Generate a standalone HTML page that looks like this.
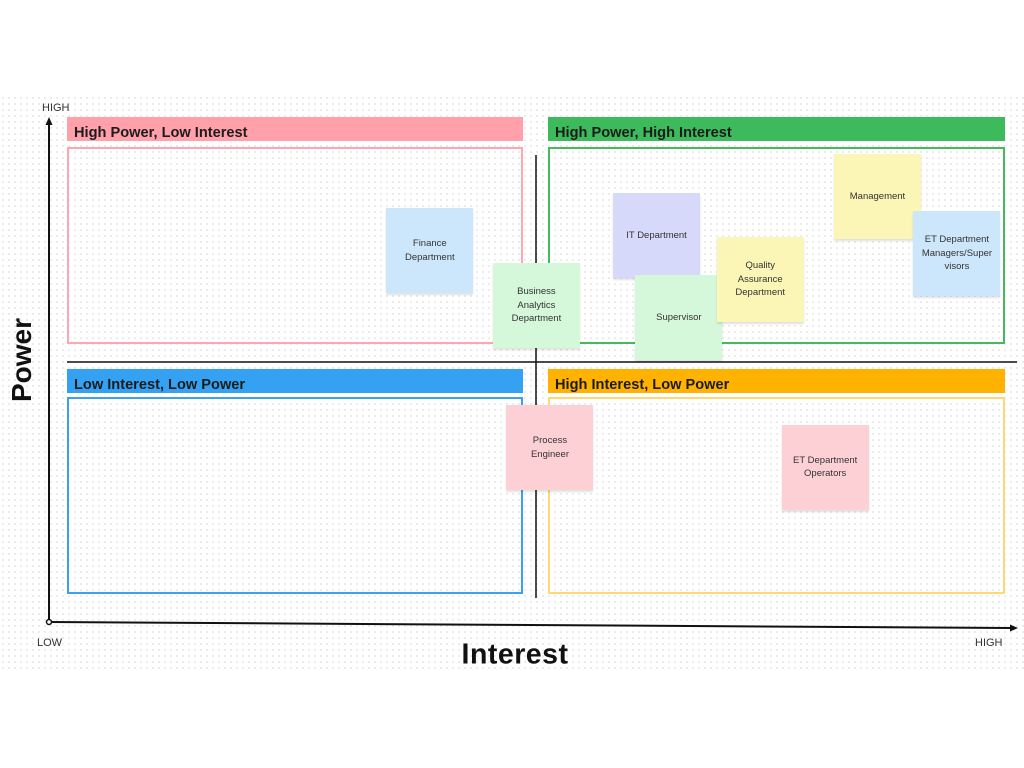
<!DOCTYPE html>
<html><head><meta charset="utf-8"><style>
html,body{margin:0;padding:0;width:1024px;height:768px;overflow:hidden;background:#fff;font-family:"Liberation Sans",sans-serif;}
#board{position:absolute;left:0;top:95px;width:1024px;height:577px;background-color:#fff;background-image:radial-gradient(circle,#e6e6e6 0.8px,transparent 1.1px);background-size:6px 6px;}
.abs{position:absolute;}
.hdr{position:absolute;height:24px;font-weight:bold;font-size:14.6px;color:#1c1c1c;line-height:32px;padding-left:7px;box-sizing:border-box;overflow:hidden;}
.box{position:absolute;box-sizing:border-box;border:2px solid;}
.note{position:absolute;width:87px;height:85px;display:flex;align-items:center;justify-content:center;text-align:center;font-size:9.5px;line-height:13.5px;color:#333;box-shadow:0 2px 2px rgba(0,0,0,0.12);padding:0 3px;box-sizing:border-box;}
.lbl{position:absolute;font-size:11px;color:#333;}
</style></head><body>
<div id="board"></div>

<div class="hdr" style="left:67px;top:117px;width:456px;background:#ffa0aa">High Power, Low Interest</div>
<div class="hdr" style="left:548px;top:117px;width:457px;background:#3dba5b">High Power, High Interest</div>
<div class="hdr" style="left:67px;top:369px;width:456px;background:#35a1f2">Low Interest, Low Power</div>
<div class="hdr" style="left:548px;top:369px;width:457px;background:#ffb300">High Interest, Low Power</div>

<div class="box" style="left:67px;top:147px;width:456px;height:197px;border-color:#ffa6b0"></div>
<div class="box" style="left:548px;top:147px;width:457px;height:197px;border-color:#46b95e"></div>
<div class="box" style="left:67px;top:397px;width:456px;height:197px;border-color:#3aa0ef"></div>
<div class="box" style="left:548px;top:397px;width:457px;height:197px;border-color:#ffd873"></div>

<svg class="abs" style="left:0;top:0" width="1024" height="768">
  <line x1="536" y1="155" x2="536" y2="598" stroke="#111" stroke-width="1.5"/>
  <line x1="67" y1="362" x2="1017" y2="362" stroke="#111" stroke-width="1.5"/>
  <line x1="49" y1="622" x2="49" y2="124" stroke="#111" stroke-width="2"/>
  <polygon points="49,117 45.5,125 52.5,125" fill="#111"/>
  <line x1="49" y1="622" x2="1011" y2="628" stroke="#111" stroke-width="2"/>
  <polygon points="1018,628 1010,624.5 1010,631.5" fill="#111"/>
  <circle cx="49" cy="622" r="2.5" fill="#fff" stroke="#111" stroke-width="1.5"/>
</svg>

<div class="lbl" style="left:42px;top:102px">HIGH</div>
<div class="lbl" style="left:37px;top:637px">LOW</div>
<div class="lbl" style="left:975px;top:637px">HIGH</div>
<div class="abs" style="left:22px;top:360px;transform:translate(-50%,-50%) rotate(-90deg);font-size:28px;font-weight:bold;color:#111">Power</div>
<div class="abs" style="left:515px;top:655px;transform:translate(-50%,-50%);font-size:28.5px;font-weight:bold;color:#111;letter-spacing:0.5px">Interest</div>

<div id="notes"></div>
<script>
const labels = ["Finance<br>Department","Business<br>Analytics<br>Department","IT Department","Supervisor","Quality<br>Assurance<br>Department","Management","ET Department<br>Managers/Super<br>visors","Process<br>Engineer","ET Department<br>Operators"];
const interest = [39.3,50.3,62.7,65.0,73.4,85.5,93.7,51.7,80.1];
const power = [73.7,62.8,76.7,60.4,68.0,84.4,73.1,34.6,30.7];
const colors = ["#cce7fb","#d5f8da","#d7d9fb","#d5f8da","#fbf6b6","#fbf6b6","#cce7fb","#fdd0d6","#fdd0d6"];
const names = ["finance","business-analytics","it-department","supervisor","quality-assurance","management","et-managers","process-engineer","et-operators"];
function xScale(v){return 49 + v*(1018-49)/100;}
function yScale(v){return 622 - v*(622-118)/100;}
const wrap=document.getElementById('notes');
for(let i=0;i<labels.length;i++){
  const el=document.createElement('div');
  el.className='note';
  el.style.left=(xScale(interest[i])-43.5)+'px';
  el.style.top=(yScale(power[i])-42.5)+'px';
  el.style.background=colors[i];
  el.innerHTML=labels[i];
  
  
  wrap.appendChild(el);
}
</script>
</body></html>
